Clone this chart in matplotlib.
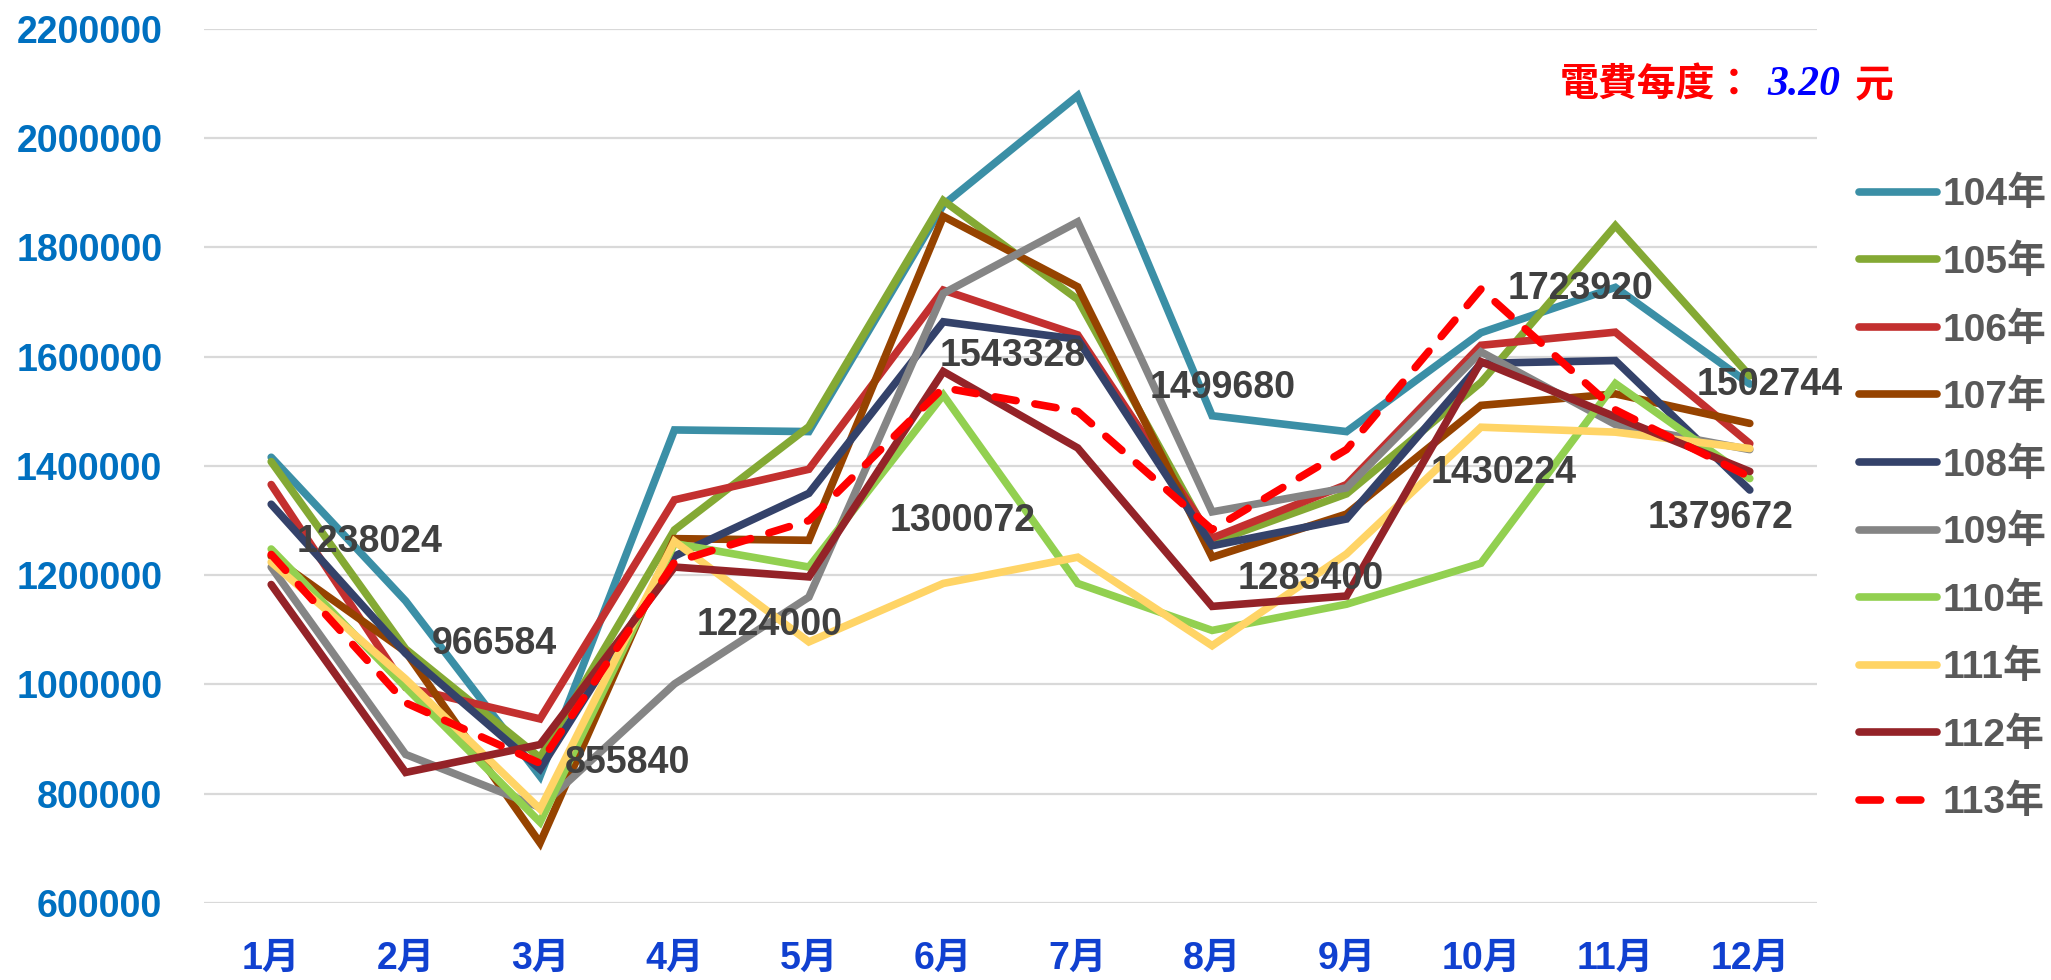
import matplotlib
matplotlib.use("Agg")
import matplotlib.pyplot as plt
import numpy as np

# categories
months = ["1月", "2月", "3月", "4月", "5月", "6月", "7月", "8月", "9月", "10月", "11月", "12月"]
years = ["104年", "105年", "106年", "107年", "108年", "109年", "110年", "111年", "112年", "113年"]

# monthly usage per year
y104 = [1416000, 1153000, 832000, 1466000, 1463000, 1878000, 2078000, 1492000, 1463000, 1644000, 1727000, 1550000]
y105 = [1408000, 1065000, 866000, 1283000, 1472000, 1886000, 1705000, 1260000, 1349000, 1553000, 1840000, 1565000]
y106 = [1366000, 995000, 937000, 1338000, 1394000, 1722000, 1640000, 1268000, 1366000, 1621000, 1645000, 1441000]
y107 = [1235000, 1060000, 710000, 1267000, 1264000, 1857000, 1728000, 1233000, 1312000, 1511000, 1532000, 1478000]
y108 = [1330000, 1057000, 845000, 1235000, 1350000, 1664000, 1632000, 1254000, 1303000, 1588000, 1593000, 1356000]
y109 = [1215000, 872000, 775000, 1001000, 1160000, 1716000, 1847000, 1316000, 1360000, 1609000, 1476000, 1430000]
y110 = [1248000, 995000, 748000, 1258000, 1215000, 1530000, 1185000, 1099000, 1147000, 1222000, 1551000, 1377000]
y111 = [1224000, 1010000, 772000, 1262000, 1078000, 1185000, 1233000, 1071000, 1239000, 1471000, 1462000, 1432000]
y112 = [1183000, 839000, 890000, 1215000, 1197000, 1573000, 1433000, 1143000, 1162000, 1591000, 1490000, 1390000]
y113 = [1238024, 966584, 855840, 1224000, 1300072, 1543328, 1499680, 1283400, 1430224, 1723920, 1502744, 1379672]

series = [y104, y105, y106, y107, y108, y109, y110, y111, y112, y113]
colors = ["#3B8FA6", "#84A934", "#C3302F", "#964300", "#34426A",
          "#858585", "#92D050", "#FFD466", "#942328", "#FF0000"]

yticks = np.arange(600000, 2200001, 200000)

# data label offsets for 113年 (pixels, left edge / vertical centre)
label_offsets = [(25, 12), (26, 59), (25, 0), (22, -63), (81, 0), (-4, 32),
                 (72, 24), (26, -49), (84, -24), (27, 0), (81, 25), (-102, -41)]

FONT = ["Liberation Sans", "Noto Sans CJK TC", "DejaVu Sans"]
plt.rcParams["font.family"] = FONT

fig = plt.figure(figsize=(20.51, 9.80), dpi=100)
ax = fig.add_axes([204 / 2051, 1 - 903 / 980, (1817 - 204) / 2051, (903 - 29) / 980])

x = np.arange(len(months))
for name, vals, col in zip(years, series, colors):
    if name == "113年":
        ax.plot(x, vals, color=col, lw=5.5, linestyle=(0, (2.8, 2.5)),
                dash_capstyle="round", label=name, zorder=5)
    else:
        ax.plot(x, vals, color=col, lw=5.5, solid_capstyle="round",
                solid_joinstyle="miter", label=name, zorder=3)

# data labels
for xi, v, (dx, dy) in zip(x, y113, label_offsets):
    ax.annotate(f"{v}", (xi, v), xytext=(dx, dy), textcoords="offset pixels",
                ha="left", va="center", fontsize=27, fontweight="bold",
                color="#404040", zorder=6)

ax.set_xlim(-0.5, len(months) - 0.5)
ax.set_ylim(600000, 2200000)
ax.set_yticks(yticks)
ax.set_yticklabels([str(t) for t in yticks])
ax.set_xticks(x)
ax.set_xticklabels(months)
ax.grid(axis="y", color="#D9D9D9", lw=1.6, zorder=0)
ax.set_axisbelow(True)
for s in ax.spines.values():
    s.set_visible(False)
ax.tick_params(axis="both", length=0)
ax.tick_params(axis="y", pad=30, labelsize=27, labelcolor="#0070C0")
ax.tick_params(axis="x", pad=27, labelsize=27, labelcolor="#1040D0")
for t in ax.get_yticklabels() + ax.get_xticklabels():
    t.set_fontweight("bold")

leg = fig.legend(loc="upper left", bbox_to_anchor=(1859 / 2051, 1 - 177 / 980),
                 frameon=False, fontsize=28, handlelength=2.0, handletextpad=0.15,
                 labelspacing=0.80, borderpad=0, borderaxespad=0)
for t in leg.get_texts():
    t.set_color("#595959")
    t.set_fontweight("bold")

# price note
fig.text(1560 / 2051, 1 - 85 / 980, "電費每度：", color="#FF0000", fontsize=28,
         fontweight="bold", family=["Noto Sans CJK TC"], va="center", ha="left")
fig.text(1767 / 2051, 1 - 85 / 980, "3.20", color="#0000FF", fontsize=30,
         fontweight="bold", fontstyle="italic", family=["Liberation Serif"],
         va="center", ha="left")
fig.text(1855 / 2051, 1 - 85 / 980, "元", color="#FF0000", fontsize=28,
         fontweight="bold", family=["Noto Sans CJK TC"], va="center", ha="left")

fig.savefig("out.png", dpi=100)
